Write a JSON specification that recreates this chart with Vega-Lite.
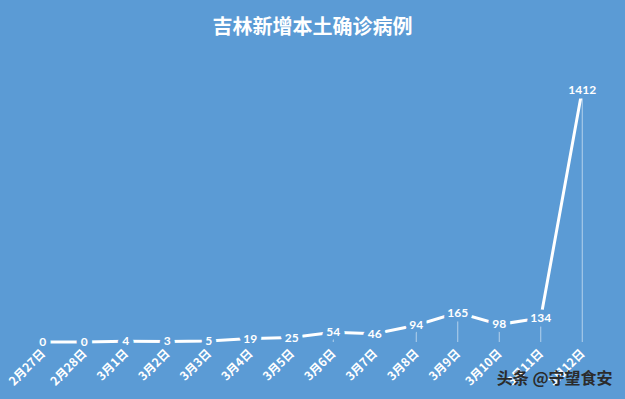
{
  "$schema": "https://vega.github.io/schema/vega-lite/v6.json",
  "autosize": {"type": "none"},
  "width": 581,
  "height": 286,
  "padding": {"left": 22, "top": 56, "right": 22, "bottom": 57},
  "background": "#5B9BD5",
  "config": {"view": {"stroke": null}, "font": "Lato, Noto Sans CJK SC"},
  "title": {
    "text": "吉林新增本土确诊病例",
    "color": "#FFFFFF",
    "font": "Noto Sans CJK SC",
    "fontSize": 20,
    "fontWeight": "bold",
    "anchor": "middle",
    "offset": 18
  },
  "data": {"values": [
    {"date": "2月27日", "cases": 0},
    {"date": "2月28日", "cases": 0},
    {"date": "3月1日", "cases": 4},
    {"date": "3月2日", "cases": 3},
    {"date": "3月3日", "cases": 5},
    {"date": "3月4日", "cases": 19},
    {"date": "3月5日", "cases": 25},
    {"date": "3月6日", "cases": 54},
    {"date": "3月7日", "cases": 46},
    {"date": "3月8日", "cases": 94},
    {"date": "3月9日", "cases": 165},
    {"date": "3月10日", "cases": 98},
    {"date": "3月11日", "cases": 134},
    {"date": "3月12日", "cases": 1412}
  ]},
  "encoding": {
    "x": {
      "field": "date", "type": "ordinal", "sort": null,
      "scale": {"type": "point", "padding": 0.5},
      "axis": {
        "title": "头条 @守望食安",
        "titleColor": "#2b2b2b",
        "titleFont": "Noto Sans CJK SC",
        "titleFontSize": 16,
        "titleFontWeight": "bold",
        "titleAnchor": "end",
        "titleAlign": "right",
        "titleBaseline": "middle",
        "titleX": 590,
        "titleY": 36,
        "labelAngle": -45,
        "labelAlign": "right",
        "labelBaseline": "middle",
        "labelColor": "#FFFFFF",
        "labelFont": "Noto Sans CJK SC",
        "labelFontSize": 12,
        "labelFontWeight": "bold",
        "labelPadding": 9,
        "domain": false,
        "ticks": false,
        "grid": false
      }
    },
    "y": {
      "field": "cases", "type": "quantitative",
      "scale": {"domain": [0, 1600], "nice": false},
      "axis": null
    }
  },
  "layer": [
    {
      "mark": {"type": "rule", "color": "#FFFFFF", "strokeWidth": 1, "opacity": 0.55},
      "encoding": {"y2": {"datum": 0}}
    },
    {
      "mark": {"type": "line", "color": "#FFFFFF", "strokeWidth": 3}
    },
    {
      "mark": {"type": "text", "fontSize": 12, "fontWeight": "bold", "fill": "#5B9BD5", "stroke": "#5B9BD5", "strokeWidth": 9, "strokeJoin": "round"},
      "encoding": {"text": {"field": "cases", "type": "quantitative"}}
    },
    {
      "mark": {"type": "text", "fontSize": 12, "fontWeight": "bold", "fill": "#FFFFFF"},
      "encoding": {"text": {"field": "cases", "type": "quantitative"}}
    }
  ]
}
